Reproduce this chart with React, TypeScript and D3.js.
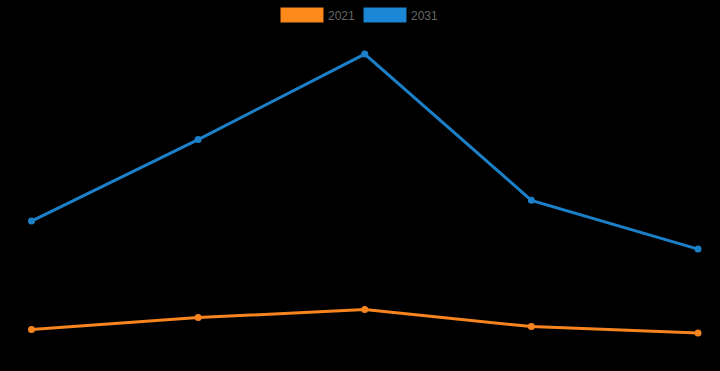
import React from "react";
import * as d3 from "d3";

const categories = ["A", "B", "C", "D", "E"];
const seriesNames = ["2021", "2031"];
const values2021 = [10.9, 14.5, 16.9, 11.8, 9.9];
const values2031 = [43.4, 67.8, 93.4, 49.6, 35.0];

const W = 720;
const H = 371;
const colors = ["#f7841f", "#1b80c8"];
const fills = ["#ff8a1c", "#1a88d6"];

export default function App() {
  const x = d3.scalePoint<string>().domain(categories).range([31.5, 698]);
  const y = d3.scaleLinear().domain([0, 100]).range([366, 32]);
  const line = d3
    .line<number>()
    .x((_, i) => x(categories[i]) as number)
    .y((d) => y(d));
  const series = [values2021, values2031];
  const legendX = [281, 364];
  return (
    <svg
      width={W}
      height={H}
      style={{ position: "absolute", left: 0, top: 0, background: "#000" }}
    >
      <rect x={0} y={0} width={W} height={H} fill="#000" />
      {seriesNames.map((n, i) => (
        <g key={n}>
          <rect
            x={legendX[i]}
            y={8}
            width={42}
            height={14}
            fill={fills[i]}
            stroke={colors[i]}
            strokeWidth={1}
          />
          <text
            x={legendX[i] + 47}
            y={19.5}
            fontFamily="Liberation Sans, Arial, sans-serif"
            fontSize={12}
            fill="#666"
          >
            {n}
          </text>
        </g>
      ))}
      {series.map((s, si) => (
        <g key={si}>
          <path d={line(s) || ""} fill="none" stroke={colors[si]} strokeWidth={3} />
          {s.map((v, i) => (
            <circle
              key={i}
              cx={x(categories[i]) as number}
              cy={y(v)}
              r={3.5}
              fill={colors[si]}
            />
          ))}
        </g>
      ))}
    </svg>
  );
}
